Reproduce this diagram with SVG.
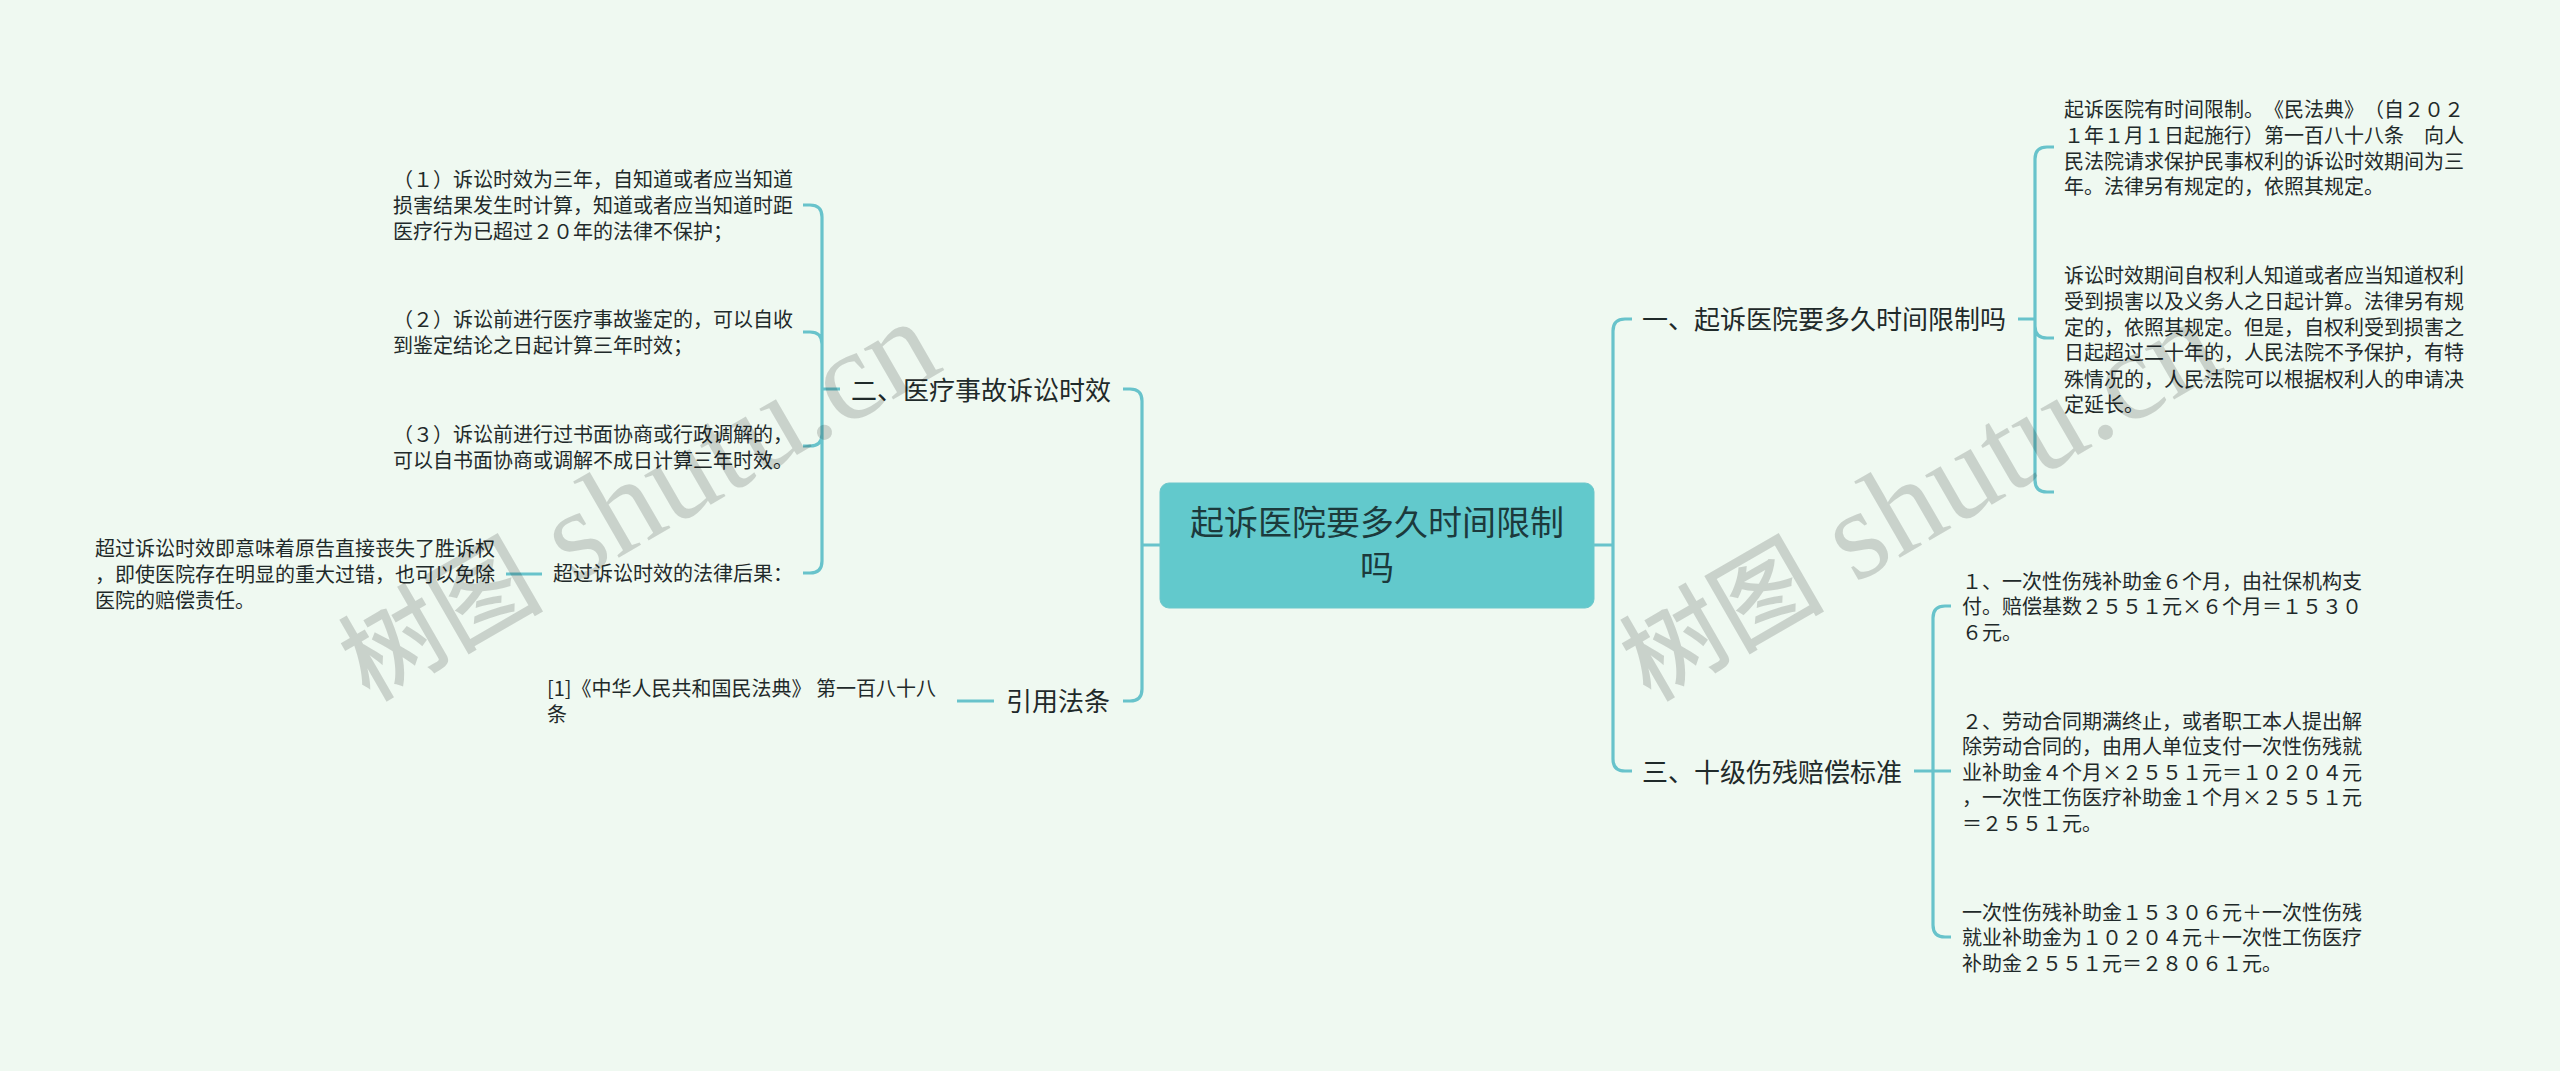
<svg xmlns="http://www.w3.org/2000/svg" width="2560" height="1071" viewBox="0 0 2560 1071">
<style>
text{font-family:"Noto Sans CJK SC","Noto Sans",sans-serif;fill:#1f2a2a;text-spacing-trim:space-all}
.leaf{font-size:20px}
.branch{font-size:26px}
.root{font-size:34px;text-anchor:middle;fill:#1c3a3c}
text.wm{font-family:"Noto Sans CJK SC",sans-serif;font-size:102px;font-weight:500;fill:#000;fill-opacity:.155}
.wm .lat{font-family:"Liberation Serif",serif;font-size:128px;font-weight:400}
.conn{fill:none;stroke:#68c3cb;stroke-width:3.2;stroke-linecap:butt}
</style>
<rect width="2560" height="1071" fill="#eff9f1"/>
<g id="connectors" class="conn">
<path d="M1594 545H1613M1632 319H1625Q1613 319 1613 331V759Q1613 771 1625 771H1632"/>
<path d="M1160 545H1142M1123 389H1130Q1142 389 1142 401V689Q1142 701 1130 701H1123"/>
<path d="M2018 319H2035M2054 147H2047Q2035 147 2035 159V480Q2035 492 2047 492H2054M2035 326Q2035 338 2047 338H2054"/>
<path d="M1914 771H1951M1951 606H1945Q1933 606 1933 618V925Q1933 937 1945 937H1951"/>
<path d="M840 389H822M803 205H810Q822 205 822 217V561Q822 573 810 573H803M803 332H810Q822 332 822 344M803 446H810Q822 446 822 434"/>
<path d="M506 574H542"/>
<path d="M957 701H994"/>
</g>
<g id="root"><rect x="1160" y="483" width="434" height="125" rx="9" fill="#62c9cc" stroke="#6cc7cb" stroke-width="1"/>
<text class="root" x="1377" y="535">起诉医院要多久时间限制<tspan x="1377" y="580">吗</tspan></text></g>
<g id="b1"><text class="branch" x="1642" y="329">一、起诉医院要多久时间限制吗</text></g>
<g id="b2"><text class="branch" x="851" y="400">二、医疗事故诉讼时效</text></g>
<g id="b3"><text class="branch" x="1642" y="782">三、十级伤残赔偿标准</text></g>
<g id="b4"><text class="branch" x="1006" y="711">引用法条</text></g>
<g id="l1a"><text class="leaf" x="2064" y="117">起诉医院有时间限制。《民法典》（自２０２<tspan x="2064" y="143">１年１月１日起施行）第一百八十八条　向人</tspan><tspan x="2064" y="169">民法院请求保护民事权利的诉讼时效期间为三</tspan><tspan x="2064" y="194">年。法律另有规定的，依照其规定。</tspan></text></g>
<g id="l1b"><text class="leaf" x="2064" y="283">诉讼时效期间自权利人知道或者应当知道权利<tspan x="2064" y="309">受到损害以及义务人之日起计算。法律另有规</tspan><tspan x="2064" y="335">定的，依照其规定。但是，自权利受到损害之</tspan><tspan x="2064" y="360">日起超过二十年的，人民法院不予保护，有特</tspan><tspan x="2064" y="387">殊情况的，人民法院可以根据权利人的申请决</tspan><tspan x="2064" y="412">定延长。</tspan></text></g>
<g id="l3a"><text class="leaf" x="1962" y="589">１、一次性伤残补助金６个月，由社保机构支<tspan x="1962" y="614">付。赔偿基数２５５１元×６个月＝１５３０</tspan><tspan x="1962" y="640">６元。</tspan></text></g>
<g id="l3b"><text class="leaf" x="1962" y="729">２、劳动合同期满终止，或者职工本人提出解<tspan x="1962" y="754">除劳动合同的，由用人单位支付一次性伤残就</tspan><tspan x="1962" y="780">业补助金４个月×２５５１元＝１０２０４元</tspan><tspan x="1962" y="805">，一次性工伤医疗补助金１个月×２５５１元</tspan><tspan x="1962" y="831">＝２５５１元。</tspan></text></g>
<g id="l3c"><text class="leaf" x="1962" y="920">一次性伤残补助金１５３０６元＋一次性伤残<tspan x="1962" y="945">就业补助金为１０２０４元＋一次性工伤医疗</tspan><tspan x="1962" y="971">补助金２５５１元＝２８０６１元。</tspan></text></g>
<g id="l2a"><text class="leaf" x="393" y="187">（１）诉讼时效为三年，自知道或者应当知道<tspan x="393" y="213">损害结果发生时计算，知道或者应当知道时距</tspan><tspan x="393" y="239">医疗行为已超过２０年的法律不保护；</tspan></text></g>
<g id="l2b"><text class="leaf" x="393" y="327">（２）诉讼前进行医疗事故鉴定的，可以自收<tspan x="393" y="353">到鉴定结论之日起计算三年时效；</tspan></text></g>
<g id="l2c"><text class="leaf" x="393" y="442">（３）诉讼前进行过书面协商或行政调解的，<tspan x="393" y="468">可以自书面协商或调解不成日计算三年时效。</tspan></text></g>
<g id="l2d"><text class="leaf" x="553" y="581">超过诉讼时效的法律后果：</text></g>
<g id="l2d1"><text class="leaf" x="95" y="556">超过诉讼时效即意味着原告直接丧失了胜诉权<tspan x="95" y="582">，即使医院存在明显的重大过错，也可以免除</tspan><tspan x="95" y="608">医院的赔偿责任。</tspan></text></g>
<g id="l4"><text class="leaf" x="547" y="696">[1]《中华人民共和国民法典》 第一百八十八<tspan x="547" y="722">条</tspan></text></g>
<g id="watermark">
<text class="wm" transform="translate(369 702) rotate(-30)">树图<tspan class="lat"> shutu.cn</tspan></text>
<text class="wm" transform="translate(1650 702) rotate(-30)">树图<tspan class="lat"> shutu.cn</tspan></text>
</g>
</svg>
